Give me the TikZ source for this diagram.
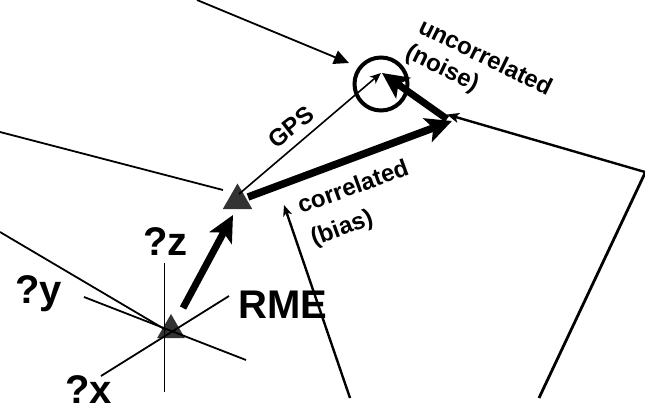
\documentclass[tikz,border=0pt]{standalone}
\usepackage{fontspec}
\setmainfont{Liberation Sans}
\usetikzlibrary{arrows.meta,shapes.geometric}
\definecolor{tri}{RGB}{51,51,51}
\begin{document}
\begin{tikzpicture}[x=1pt,y=-1pt,
  thinline/.style={line width=1.8pt},
  midline/.style={line width=2.4pt},
  thickarrow/.style={line width=7.5pt,-{Stealth[length=26pt,width=25pt,inset=6pt]}},
  station/.style={regular polygon,regular polygon sides=3,minimum size=34pt,inner sep=0pt,fill=tri},
  biglabel/.style={font=\fontsize{40}{48}\selectfont\bfseries,inner sep=0pt,anchor=base west},
  smalllabel/.style={font=\fontsize{24}{28}\selectfont\bfseries,inner sep=0pt}]
\useasboundingbox (0,0) rectangle (645,405);
% stations
\node[station] (t1) at (237.5,200.5) {};
\node[station,minimum size=32pt] (t2) at (171,330) {};
\node[circle,draw,line width=4pt,minimum size=53pt,inner sep=0pt] (circ) at (381,84) {};
% coordinates
\coordinate (topS) at (197,0);
\coordinate (topE) at (349,63);
\coordinate (gpsS) at (239,194);
\coordinate (gpsE) at (381,73);
\coordinate (corrS) at (248,197);
\coordinate (corrE) at (452,121);
\coordinate (noiseS) at (447,119);
\coordinate (noiseE) at (382,73);
\coordinate (rmeS) at (183,308);
\coordinate (rmeE) at (233,215);
\coordinate (rS) at (645,172);
\coordinate (rE) at (447,114.5);
\coordinate (rlS) at (645,173);
\coordinate (rlE) at (539,398);
\coordinate (bS) at (350,398);
\coordinate (bE) at (284,205);
\coordinate (l1S) at (0,132);
\coordinate (l1E) at (223,190);
\coordinate (l2S) at (0,232);
\coordinate (l2E) at (166,330);
\coordinate (zS) at (164.5,263);
\coordinate (zE) at (164.5,392);
\coordinate (yS) at (84,297);
\coordinate (yE) at (246,360);
\coordinate (xS) at (101,376);
\coordinate (xE) at (229,296);
% labels
\node[biglabel] (lz) at (143,255) {?z};
\node[biglabel] (ly) at (15,303) {?y};
\node[biglabel] (lx) at (65,403) {?x};
\node[biglabel] (lrme) at (238,318) {RME};
\node[smalllabel,rotate=38] (lgps) at (291,127) {GPS};
\node[smalllabel,rotate=-26,anchor=base west] (lunc) at (417,32) {uncorrelated};
\node[smalllabel,rotate=-26,anchor=base west] (lnoise) at (404,57) {(noise)};
\node[smalllabel,rotate=20,anchor=base west] (lcorr) at (301,214) {correlated};
\node[smalllabel,rotate=20,anchor=base west] (lbias) at (314,246) {(bias)};
% lines
\draw[thinline] (l1S) -- (l1E);
\draw[thinline] (l2S) -- (l2E);
\draw[thinline] (zS) -- (zE);
\draw[thinline] (yS) -- (yE);
\draw[thinline] (xS) -- (xE);
\draw[thinline,-{Triangle[length=15pt,width=14pt]}] (topS) -- (topE);
\draw[line width=1.6pt,-{Stealth[length=11pt,width=9pt,inset=3pt]}] (gpsS) -- (gpsE);
\draw[midline,-{Stealth[length=12pt,width=10pt,inset=3pt]}] (rS) -- (rE);
\draw[line width=2.8pt] (rlS) -- (rlE);
\draw[midline,-{Stealth[length=11pt,width=9pt,inset=3pt]}] (bS) -- (bE);
\draw[thickarrow] (corrS) -- (corrE);
\draw[thickarrow,line width=7pt] (noiseS) -- (noiseE);
\draw[thickarrow,line width=7pt] (rmeS) -- (rmeE);
\end{tikzpicture}
\end{document}
